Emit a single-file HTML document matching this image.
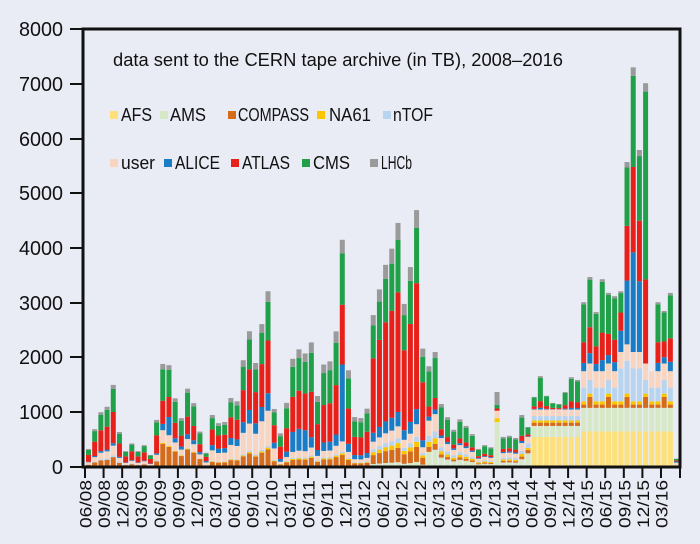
<!DOCTYPE html>
<html><head><meta charset="utf-8">
<style>
html,body{margin:0;padding:0;background:#e9ebf5;}
svg{display:block;font-family:"Liberation Sans",sans-serif;}
</style></head>
<body>
<svg id="c" width="700" height="544" viewBox="0 0 700 544" xmlns="http://www.w3.org/2000/svg">
<rect width="700" height="544" fill="#e9ebf5"/>
<g id="bars"></g>
<path d="M83,29 H680 V467 H83 Z" fill="none" stroke="#111" stroke-width="3"/>
<g font-size="20" fill="#111" text-anchor="end">
<text x="63" y="36" textLength="44" lengthAdjust="spacingAndGlyphs">8000</text><text x="63" y="91" textLength="44" lengthAdjust="spacingAndGlyphs">7000</text><text x="63" y="146" textLength="44" lengthAdjust="spacingAndGlyphs">6000</text><text x="63" y="200" textLength="44" lengthAdjust="spacingAndGlyphs">5000</text>
<text x="63" y="255" textLength="44" lengthAdjust="spacingAndGlyphs">4000</text><text x="63" y="310" textLength="44" lengthAdjust="spacingAndGlyphs">3000</text><text x="63" y="364" textLength="44" lengthAdjust="spacingAndGlyphs">2000</text><text x="63" y="419" textLength="44" lengthAdjust="spacingAndGlyphs">1000</text><text x="63" y="474">0</text>
</g>
<g stroke="#111" stroke-width="2">
<line x1="70" x2="83" y1="29" y2="29"/><line x1="70" x2="83" y1="84" y2="84"/><line x1="70" x2="83" y1="139" y2="139"/><line x1="70" x2="83" y1="193" y2="193"/><line x1="70" x2="83" y1="248" y2="248"/><line x1="70" x2="83" y1="303" y2="303"/><line x1="70" x2="83" y1="357" y2="357"/><line x1="70" x2="83" y1="412" y2="412"/><line x1="70" x2="83" y1="467" y2="467"/>
</g>
<g id="xt"></g>
<text x="113" y="66" font-size="18" fill="#111" textLength="450" lengthAdjust="spacingAndGlyphs">data sent to the CERN tape archive (in TB), 2008–2016</text>
<g font-size="18" fill="#111">
<rect x="110" y="111" width="8" height="8" fill="#fde07a"/><text x="121" y="121" textLength="31" lengthAdjust="spacingAndGlyphs">AFS</text>
<rect x="160" y="111" width="8" height="8" fill="#d7e8c6"/><text x="170" y="121" textLength="36" lengthAdjust="spacingAndGlyphs">AMS</text>
<rect x="228" y="111" width="8" height="8" fill="#d66b1a"/><text x="238" y="121" textLength="71" lengthAdjust="spacingAndGlyphs">COMPASS</text>
<rect x="317" y="111" width="8" height="8" fill="#fcc500"/><text x="329" y="121" textLength="42" lengthAdjust="spacingAndGlyphs">NA61</text>
<rect x="383" y="111" width="8" height="8" fill="#b8d4ee"/><text x="393" y="121" textLength="40" lengthAdjust="spacingAndGlyphs">nTOF</text>
<rect x="110" y="159" width="8" height="8" fill="#f9d5c0"/><text x="121" y="169" textLength="34" lengthAdjust="spacingAndGlyphs">user</text>
<rect x="164" y="159" width="8" height="8" fill="#1a7cc4"/><text x="175" y="169" textLength="45" lengthAdjust="spacingAndGlyphs">ALICE</text>
<rect x="231" y="159" width="8" height="8" fill="#e8201a"/><text x="242" y="169" textLength="48" lengthAdjust="spacingAndGlyphs">ATLAS</text>
<rect x="302" y="159" width="8" height="8" fill="#21a04a"/><text x="313" y="169" textLength="37" lengthAdjust="spacingAndGlyphs">CMS</text>
<rect x="370" y="159" width="8" height="8" fill="#9a9a9a"/><text x="381" y="169" textLength="31" lengthAdjust="spacingAndGlyphs">LHCb</text>
</g>
</svg>
<script>
var T=[330,690,1000,1100,1500,640,290,430,290,400,220,860,1920,1660,1280,910,1460,1190,660,260,950,800,820,1260,1200,1950,2480,1900,2610,3210,1060,640,1220,1830,1990,1920,2370,1350,1950,2010,2580,3120,1840,950,930,1110,2720,3180,3620,3910,4370,2920,3580,4600,2120,1840,2100,1150,910,680,870,750,600,330,400,360,1370,550,570,530,950,730,1280,1660,1300,1170,1150,1370,1640,1590,3010,3470,2830,3430,3180,3120,3210,5570,7300,5790,7010,1630,3010,2850,3180,150];
var C={AFS:"#fde07a",AMS:"#d7e8c6",COM:"#d66b1a",NA:"#fcc500",nT:"#b8d4ee",us:"#f9d5c0",AL:"#1a7cc4",AT:"#e8201a",CM:"#21a04a",LH:"#9a9a9a"};
var order=["AFS","AMS","COM","NA","nT","us","AL","AT","CM","LH"];
function fr(i,t){
 if(i<12) return {COM:.12,us:.12,nT:.02,AL:.03,AT:.38,CM:.28,LH:.05};
 if(i<19) return {COM:.22,us:.12,NA:.01,AL:i==13?.2:.06,AT:.22,CM:.3,LH:.05};
 if(i<31) return {COM:.1,us:.2,nT:.01,NA:.01,AL:.1,AT:.3,CM:.22,LH:.06};
 if(i<46) return {COM:.07,us:.06,NA:.01,nT:.01,AL:(i==41?.45:(i>=33&&i<=35?.2:.08)),AT:.35,CM:.3,LH:.08};
 if(i<55) return {AMS:.02,COM:.06,NA:.02,nT:.02,us:.05,AL:.06,AT:.5,CM:.22,LH:.07};
 if(i==66) return {AMS:.6,NA:.05,us:.1,AT:.03,CM:.05,LH:.17};
 if(i<71) return {AMS:.15,COM:.05,NA:.05,nT:.06,us:.15,AL:.04,AT:.1,CM:.35,LH:.05};
 return null;
}
var h='';
for(var i=0;i<T.length;i++){
 var t=T[i],seg={};
 var f=fr(i,t);
 if(f){for(var k in f)seg[k]=f[k]*t;}
 else if(i<80){
  var b={AFS:i<72?0:550,AMS:i<72?250:200,COM:60,NA:40,nT:80,us:120};
  var s=0;for(var k in b)s+=b[k];var r=Math.max(0,t-s);
  seg=b;seg.AL=r*.05;seg.AT=r*.2;seg.CM=r*.7;seg.LH=r*.05;
 }
 else{
  if(i==95){seg={AMS:40,us:40,AL:20,AT:20,CM:30};}
  else{
  var base={AFS:650,AMS:430,COM:i%3==0?200:60,NA:60,nT:i>=86&&i<=89?600:250,us:300};
  var s=0;for(var k in base)s+=base[k];
  var r=t-s;if(r<0)r=0;
  var al=(i>=86&&i<=89)?.35:.12;
  seg=base;seg.AL=r*al;seg.AT=r*(.3);seg.CM=r*(.55-al+.12);seg.LH=r*.03;
  if(i==90){seg.AT=r*.3;seg.AL=0;seg.CM=r*.67;}
  }
 }
 var x=86+6.19*i,y=467;
 for(var j=0;j<order.length;j++){var v=seg[order[j]];if(!v)continue;var hh=v*0.05475;y-=hh;
  h+='<rect x="'+x.toFixed(2)+'" y="'+y.toFixed(2)+'" width="5" height="'+hh.toFixed(2)+'" fill="'+C[order[j]]+'"/>';}
}
document.getElementById('bars').innerHTML=h;
var lab=["06/08","09/08","12/08","03/09","06/09","09/09","12/09","03/10","06/10","09/10","12/10","03/11","06/11","09/11","12/11","03/12","06/12","09/12","12/12","03/13","06/13","09/13","12/13","03/14","06/14","09/14","12/14","03/15","06/15","09/15","12/15","03/16"];
var g='';
for(var q=0;q<32;q++){var tx=85+18.58*q;
 g+='<line x1="'+tx+'" x2="'+tx+'" y1="467" y2="478" stroke="#111" stroke-width="2"/>';
 g+='<text transform="translate('+(tx+6.5)+',480) rotate(-90)" text-anchor="end" font-size="17" fill="#111" textLength="48" lengthAdjust="spacingAndGlyphs">'+lab[q]+'</text>';}
g+='<line x1="680" x2="680" y1="467" y2="478" stroke="#111" stroke-width="2"/>';
document.getElementById('xt').innerHTML=g;
</script>
</body></html>
